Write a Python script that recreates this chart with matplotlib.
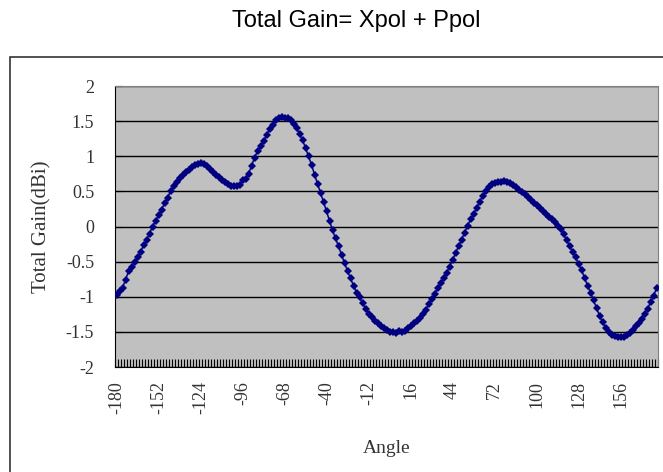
import matplotlib
matplotlib.use("Agg")
import matplotlib.pyplot as plt
from matplotlib.patches import Rectangle

# angle categories (deg), one every 2 degrees
angles = list(range(-180, 182, 2))

# total gain (dBi)
gain = [
    -0.97, -0.92, -0.87, -0.76, -0.64, -0.57, -0.50, -0.44, -0.36, -0.27,
    -0.19, -0.10, 0.00, 0.08, 0.16, 0.24, 0.33, 0.41, 0.50, 0.57,
    0.63, 0.69, 0.73, 0.77, 0.81, 0.84, 0.87, 0.89, 0.90, 0.89,
    0.86, 0.82, 0.78, 0.74, 0.70, 0.66, 0.63, 0.60, 0.58, 0.57,
    0.57, 0.59, 0.66, 0.68, 0.75, 0.86, 0.98, 1.07, 1.14, 1.22,
    1.30, 1.39, 1.45, 1.51, 1.54, 1.56, 1.55, 1.55, 1.52, 1.46,
    1.40, 1.32, 1.23, 1.12, 1.00, 0.88, 0.74, 0.61, 0.48, 0.35,
    0.22, 0.08, -0.05, -0.17, -0.28, -0.40, -0.52, -0.63, -0.74, -0.84,
    -0.94, -1.01, -1.09, -1.17, -1.24, -1.29, -1.34, -1.37, -1.41, -1.44,
    -1.47, -1.50, -1.50, -1.51, -1.49, -1.50, -1.49, -1.45, -1.42, -1.38,
    -1.34, -1.30, -1.25, -1.19, -1.11, -1.03, -0.96, -0.88, -0.81, -0.73,
    -0.66, -0.57, -0.48, -0.38, -0.28, -0.19, -0.09, 0.01, 0.10, 0.18,
    0.26, 0.35, 0.43, 0.50, 0.56, 0.60, 0.62, 0.63, 0.64, 0.645,
    0.64, 0.62, 0.59, 0.56, 0.52, 0.49, 0.46, 0.42, 0.38, 0.34,
    0.30, 0.26, 0.22, 0.18, 0.14, 0.10, 0.06, 0.01, -0.04, -0.11,
    -0.19, -0.28, -0.36, -0.44, -0.53, -0.62, -0.73, -0.84, -0.94, -1.05,
    -1.16, -1.27, -1.36, -1.44, -1.50, -1.54, -1.56, -1.57, -1.58, -1.57,
    -1.55, -1.51, -1.48, -1.42, -1.37, -1.31, -1.24, -1.17, -1.08, -0.99,
    -0.88,
]

# labelled categories
label_angles = list(range(-180, 157, 28))
y_ticks = [-2, -1.5, -1, -0.5, 0, 0.5, 1, 1.5, 2]

serif = "Liberation Serif"
text_col = "#333333"

fig = plt.figure(figsize=(6.63, 4.72), dpi=100)

# chart frame (runs off the right and bottom edges like the original)
fig.patches.append(Rectangle((10 / 663, -0.05), 1.0, 1 - 57 / 472 + 0.05,
                             transform=fig.transFigure, fill=False,
                             edgecolor="#333333", linewidth=1.2))

fig.text(356 / 663, 1 - 21 / 472, "Total Gain= Xpol + Ppol",
         ha="center", va="center", fontsize=17, family="Liberation Sans")

ax = fig.add_axes([115 / 663, 1 - 367 / 472, 543 / 663, 281 / 472])
ax.set_facecolor("#C0C0C0")

ax.plot(angles, gain, color="#000080", linewidth=1.1,
        marker="D", markersize=3.6, markeredgewidth=0, zorder=3)

ax.set_xlim(-181, 181)
ax.set_ylim(-2, 2)

ax.set_yticks(y_ticks)
ax.set_yticklabels([f"{v:g}" for v in y_ticks], family=serif, fontsize=13,
                   color=text_col)
ax.yaxis.grid(True, color="black", linewidth=1.0)
ax.set_axisbelow(True)

ax.set_xticks(label_angles)
ax.set_xticklabels([str(a) for a in label_angles], rotation=90,
                   family=serif, fontsize=13, color=text_col)
ax.set_xticks([a - 1 for a in angles] + [181], minor=True)
ax.tick_params(axis="x", which="major", length=0, pad=10)
ax.tick_params(axis="x", which="minor", direction="in", length=6,
               width=0.8, color="black")
ax.tick_params(axis="y", which="major", direction="in", length=5,
               pad=15, color="black")

for side in ["top", "right"]:
    ax.spines[side].set_color("#808080")
for side in ["left", "bottom"]:
    ax.spines[side].set_color("black")

ax.set_xlabel("Angle", family=serif, fontsize=14, labelpad=19, color=text_col)
ax.set_ylabel("Total Gain(dBi)", family=serif, fontsize=15, labelpad=10,
              color=text_col)

fig.savefig("out.png", dpi=100)
